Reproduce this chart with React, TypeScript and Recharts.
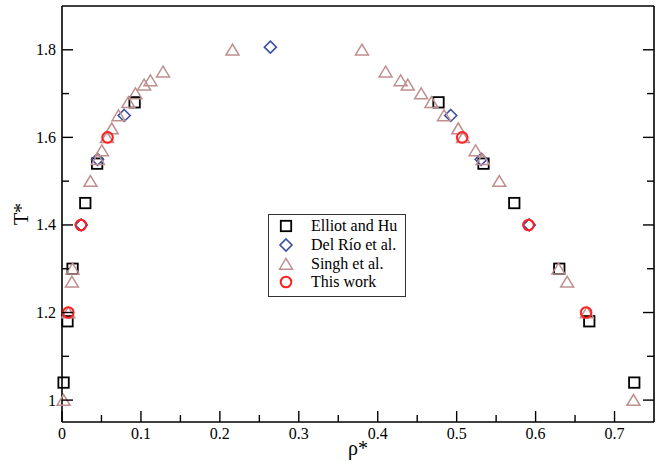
import React from 'react';
import {
  ScatterChart,
  Scatter,
  XAxis,
  YAxis,
  Legend,
  Label
} from 'recharts';

// Elliot and Hu
const elliotRho = [0.002, 0.007, 0.0134, 0.0295, 0.0445, 0.092, 0.477, 0.534, 0.573, 0.63, 0.668, 0.725];
const elliotT = [1.04, 1.18, 1.3, 1.45, 1.54, 1.68, 1.68, 1.54, 1.45, 1.3, 1.18, 1.04];

// Del Río et al.
const delRioRho = [0.0244, 0.045, 0.0788, 0.264, 0.4925, 0.531, 0.592];
const delRioT = [1.4, 1.55, 1.65, 1.806, 1.65, 1.55, 1.4];

// Singh et al.
const singhRho = [
  0.002, 0.008, 0.0126, 0.0134, 0.036, 0.0455, 0.0505, 0.057, 0.063, 0.0716, 0.084,
  0.093, 0.104, 0.112, 0.128, 0.216, 0.38, 0.41, 0.429, 0.438, 0.455, 0.468, 0.484,
  0.502, 0.508, 0.524, 0.533, 0.554, 0.629, 0.64, 0.665, 0.724
];
const singhT = [
  1.0, 1.2, 1.27, 1.3, 1.5, 1.55, 1.57, 1.6, 1.62, 1.65, 1.68,
  1.7, 1.72, 1.73, 1.75, 1.8, 1.8, 1.75, 1.73, 1.72, 1.7, 1.68, 1.65,
  1.62, 1.6, 1.57, 1.55, 1.5, 1.3, 1.27, 1.2, 1.0
];

// This work
const thisRho = [0.008, 0.024, 0.0577, 0.507, 0.591, 0.664];
const thisT = [1.2, 1.4, 1.6, 1.6, 1.4, 1.2];

const xTicks = [0, 0.05, 0.1, 0.15, 0.2, 0.25, 0.3, 0.35, 0.4, 0.45, 0.5, 0.55, 0.6, 0.65, 0.7];
const yTicks = [1, 1.1, 1.2, 1.3, 1.4, 1.5, 1.6, 1.7, 1.8];

const seriesNames = ['Elliot and Hu', 'Del Río et al.', 'Singh et al.', 'This work'];

const toPoints = (xs: number[], ys: number[]) => xs.map((x, i) => ({ x, y: ys[i] }));

const FONT = '"Liberation Serif", "Times New Roman", serif';
const BLUE = '#3a4fa6';
const ROSE = '#bf8f8f';
const RED = '#ff1f1f';

const isMajor = (v: number, step: number) => Math.abs(v / step - Math.round(v / step)) < 1e-6;

const Square = ({ cx, cy }: any) => (
  <rect x={cx - 5.2} y={cy - 5.2} width={10.4} height={10.4} fill="none" stroke="#000" strokeWidth={1.8} />
);
const Diamond = ({ cx, cy }: any) => (
  <path d={`M${cx},${cy - 6}L${cx + 6},${cy}L${cx},${cy + 6}L${cx - 6},${cy}Z`} fill="none" stroke={BLUE} strokeWidth={1.6} />
);
const Triangle = ({ cx, cy }: any) => (
  <path d={`M${cx},${cy - 5.6}L${cx + 6.5},${cy + 5.2}L${cx - 6.5},${cy + 5.2}Z`} fill="none" stroke={ROSE} strokeWidth={1.5} />
);
const Circle = ({ cx, cy }: any) => (
  <circle cx={cx} cy={cy} r={5.3} fill="none" stroke={RED} strokeWidth={2} />
);

const markers = [Square, Diamond, Triangle, Circle];

// ticks are drawn inward by hand; x,y arrive on the axis line (tickSize 0, tickMargin 0)
const BottomTick = ({ x, y, payload }: any) => {
  const major = isMajor(payload.value, 0.1);
  return (
    <g>
      <line x1={x} y1={y} x2={x} y2={y - (major ? 11 : 7)} stroke="#000" strokeWidth={1.4} />
      {major && (
        <text x={x} y={y + 17} textAnchor="middle" fontSize={16} fontFamily={FONT} fill="#000">
          {payload.value === 0 ? '0' : String(payload.value)}
        </text>
      )}
    </g>
  );
};
const TopTick = ({ x, y, payload }: any) => {
  const major = isMajor(payload.value, 0.1);
  return <line x1={x} y1={y} x2={x} y2={y + (major ? 11 : 7)} stroke="#000" strokeWidth={1.4} />;
};
const LeftTick = ({ x, y, payload }: any) => {
  const major = isMajor(payload.value - 1, 0.2);
  return (
    <g>
      <line x1={x} y1={y} x2={x + (major ? 11 : 7)} y2={y} stroke="#000" strokeWidth={1.4} />
      {major && (
        <text x={x - 6} y={y + 5.5} textAnchor="end" fontSize={16} fontFamily={FONT} fill="#000">
          {String(payload.value)}
        </text>
      )}
    </g>
  );
};
const RightTick = ({ x, y, payload }: any) => {
  const major = isMajor(payload.value - 1, 0.2);
  return <line x1={x} y1={y} x2={x - (major ? 11 : 7)} y2={y} stroke="#000" strokeWidth={1.4} />;
};

const LegendBox = () => (
  <div
    style={{
      width: 136,
      height: 79,
      border: '1px solid #333',
      background: '#fff',
      paddingTop: 2,
      boxSizing: 'content-box',
      fontFamily: FONT,
      fontSize: 16,
      color: '#000'
    }}
  >
    {seriesNames.map((name, i) => {
      const M = markers[i];
      return (
        <div key={name} style={{ display: 'flex', alignItems: 'center', height: 18.7 }}>
          <svg width={36} height={18}>
            <M cx={17} cy={9} />
          </svg>
          <span style={{ marginLeft: 6, whiteSpace: 'nowrap' }}>{name}</span>
        </div>
      );
    })}
  </div>
);

const axisLine = { stroke: '#000', strokeWidth: 1.6 };

export default function App() {
  const sets = [
    toPoints(elliotRho, elliotT),
    toPoints(delRioRho, delRioT),
    toPoints(singhRho, singhT),
    toPoints(thisRho, thisT)
  ];
  return (
    <div style={{ position: 'absolute', left: 0, top: 0, background: '#fff' }}>
      <ScatterChart width={667} height={467} margin={{ top: 5, right: 12, bottom: 44, left: 61 }}>
        <XAxis
          xAxisId="b"
          type="number"
          dataKey="x"
          domain={[0, 0.75]}
          ticks={xTicks}
          interval={0}
          height={1}
          tickSize={0}
          tickMargin={0}
          tickLine={false}
          axisLine={axisLine}
          tick={<BottomTick />}
        >
          <Label
            content={({ viewBox }: any) => (
              <text
                x={viewBox.x + viewBox.width / 2}
                y={viewBox.y + 33}
                textAnchor="middle"
                fontSize={20}
                fontFamily={FONT}
              >
                ρ*
              </text>
            )}
          />
        </XAxis>
        <XAxis
          xAxisId="t"
          orientation="top"
          type="number"
          domain={[0, 0.75]}
          allowDataOverflow
          ticks={xTicks}
          interval={0}
          height={1}
          tickSize={0}
          tickMargin={0}
          tickLine={false}
          axisLine={axisLine}
          tick={<TopTick />}
        />
        <YAxis
          yAxisId="l"
          type="number"
          dataKey="y"
          domain={[0.95, 1.9]}
          ticks={yTicks}
          interval={0}
          width={1}
          tickSize={0}
          tickMargin={0}
          tickLine={false}
          axisLine={axisLine}
          tick={<LeftTick />}
        >
          <Label
            content={({ viewBox }: any) => {
              const cx = viewBox.x - 40;
              const cy = viewBox.y + viewBox.height / 2;
              return (
                <text
                  x={cx}
                  y={cy}
                  transform={`rotate(-90 ${cx} ${cy})`}
                  textAnchor="middle"
                  dominantBaseline="central"
                  fontSize={20}
                  fontFamily={FONT}
                >
                  T*
                </text>
              );
            }}
          />
        </YAxis>
        <YAxis
          yAxisId="r"
          orientation="right"
          type="number"
          domain={[0.95, 1.9]}
          allowDataOverflow
          ticks={yTicks}
          interval={0}
          width={1}
          tickSize={0}
          tickMargin={0}
          tickLine={false}
          axisLine={axisLine}
          tick={<RightTick />}
        />
        <Legend
          layout="vertical"
          align="center"
          verticalAlign="middle"
          wrapperStyle={{ left: 268, top: 214, width: 138 }}
          content={() => <LegendBox />}
        />
        {sets.map((pts, i) => {
          const M = markers[i];
          return (
            <Scatter
              key={seriesNames[i]}
              name={seriesNames[i]}
              data={pts}
              xAxisId="b"
              yAxisId="l"
              isAnimationActive={false}
              shape={(p: any) => <M cx={p.cx} cy={p.cy} />}
            />
          );
        })}
      </ScatterChart>
    </div>
  );
}
